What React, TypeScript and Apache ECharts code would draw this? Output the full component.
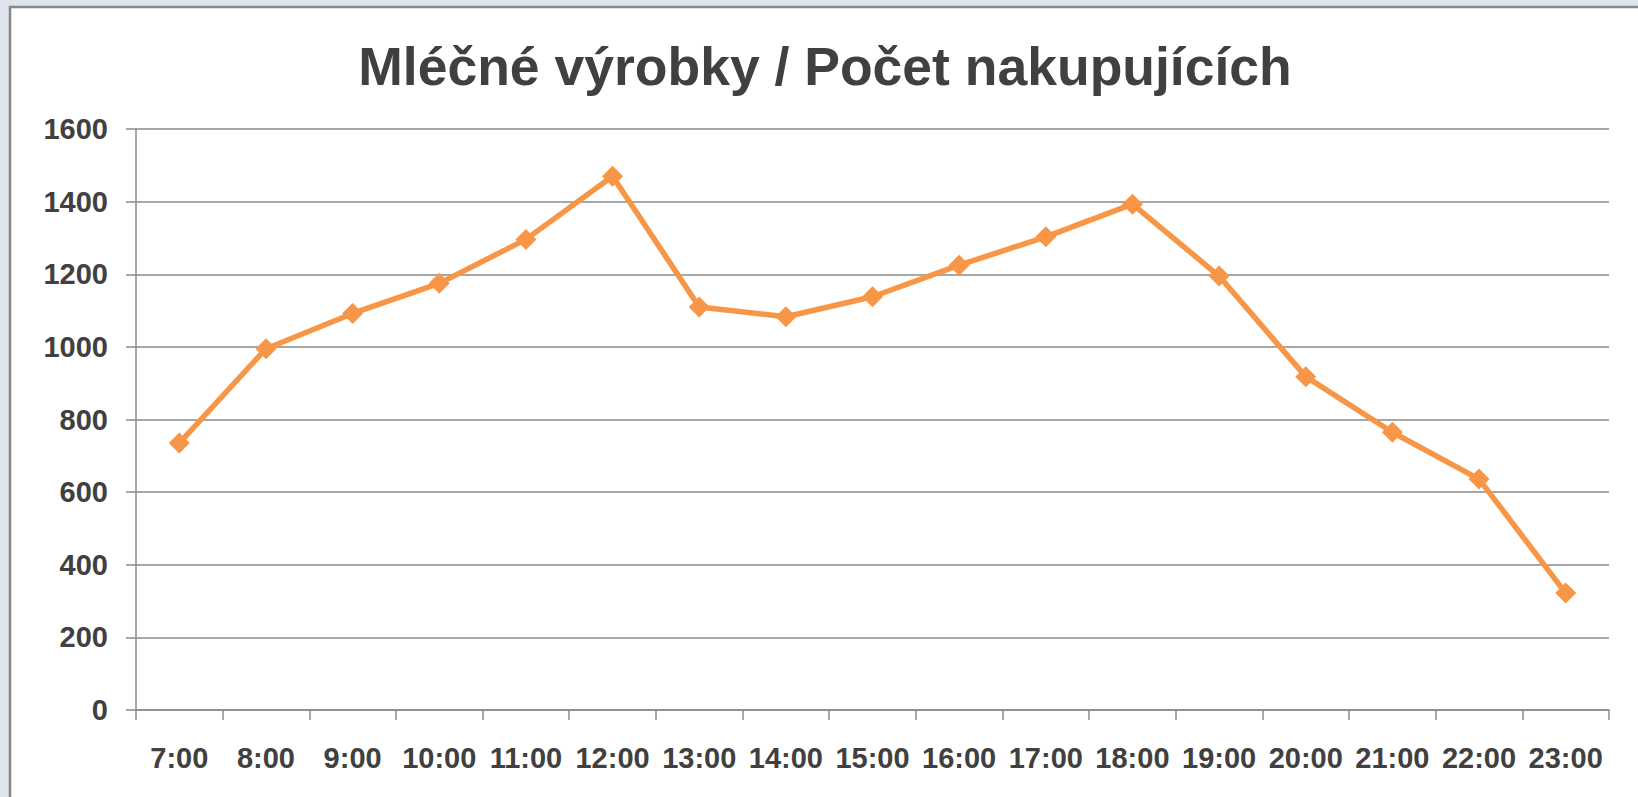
import React, { useEffect, useRef } from "react";
import * as echarts from "echarts";

const categories = ["7:00", "8:00", "9:00", "10:00", "11:00", "12:00", "13:00", "14:00", "15:00", "16:00", "17:00", "18:00", "19:00", "20:00", "21:00", "22:00", "23:00"];
const shoppers = [735, 995, 1092, 1175, 1296, 1470, 1110, 1083, 1138, 1225, 1303, 1393, 1195, 918, 765, 636, 322];
const yTicks = { min: 0, max: 1600, interval: 200 };
const title = "Mléčné výrobky / Počet nakupujících";

export default function App() {
  const ref = useRef<HTMLDivElement>(null);
  useEffect(() => {
    const chart = echarts.init(ref.current!, null, { renderer: "svg" });
    const textColor = "#404040";
    const font = "'Liberation Sans', Arial, sans-serif";
    chart.setOption({
      animation: false,
      backgroundColor: "#dfe3ec",
      graphic: [
        {
          type: "rect",
          z: -10,
          shape: { x: 10, y: 7, width: 1660, height: 830 },
          style: { fill: "#ffffff", stroke: "#878787", lineWidth: 2.5 },
          silent: true,
        },
      ],
      title: {
        text: title,
        left: 820,
        textAlign: "center",
        top: 34,
        textStyle: { fontFamily: font, fontSize: 53.5, fontWeight: "bold", color: textColor },
      },
      grid: { left: 136, top: 129, right: 29, bottom: 87, containLabel: false },
      xAxis: {
        type: "category",
        data: categories,
        boundaryGap: true,
        axisLine: { lineStyle: { color: "#8a8a8a", width: 1.5 } },
        axisTick: { show: true, length: 10, lineStyle: { color: "#8a8a8a", width: 1.5 } },
        axisLabel: { margin: 33, fontFamily: font, fontSize: 29, fontWeight: "bold", color: textColor, interval: 0 },
        splitLine: { show: false },
      },
      yAxis: {
        type: "value",
        min: yTicks.min,
        max: yTicks.max,
        interval: yTicks.interval,
        axisLine: { show: true, lineStyle: { color: "#8a8a8a", width: 1.5 } },
        axisTick: { show: true, length: 10, lineStyle: { color: "#8a8a8a", width: 1.5 } },
        axisLabel: {
          margin: 28,
          fontFamily: font,
          fontSize: 29,
          fontWeight: "bold",
          color: textColor,
          formatter: (v: number) => String(v),
        },
        splitLine: { show: true, lineStyle: { color: "#8a8a8a", width: 1.5 } },
      },
      series: [
        {
          type: "line",
          data: shoppers,
          symbol: "diamond",
          symbolSize: 21,
          itemStyle: { color: "#f79646" },
          lineStyle: { color: "#f79646", width: 5.5 },
        },
      ],
    });
    return () => chart.dispose();
  }, []);
  return <div ref={ref} style={{ position: "absolute", left: 0, top: 0, width: 1638, height: 797 }} />;
}
